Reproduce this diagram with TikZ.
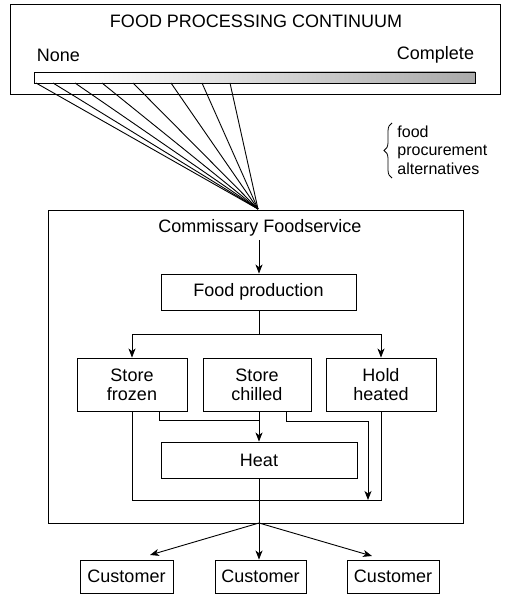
\documentclass[tikz,border=0pt]{standalone}
\usepackage{fontspec}
\setmainfont{Liberation Sans}
\usetikzlibrary{arrows.meta,decorations.pathreplacing,calc}
\pgfdeclarehorizontalshading{barshade}{100bp}{color(0bp)=(white); color(30bp)=(white); color(70bp)=(black!30); color(100bp)=(black!50)}
\begin{document}
\begin{tikzpicture}[x=1pt,y=-1pt,
  line width=0.9pt,
  box/.style={draw,line width=0.9pt,inner sep=0pt,align=center,
    font=\fontsize{18}{19}\selectfont},
  txt/.style={inner sep=0pt,font=\fontsize{18}{19}\selectfont,align=center},
  arr/.style={-{Stealth[length=9pt,width=7pt,inset=2.5pt]}}]
\useasboundingbox (0,0) rectangle (517,604);

% top panel
\node[box,minimum width=490pt,minimum height=90pt] (top) at (255,49) {};
\node[txt] (title) at (256,21) {FOOD PROCESSING CONTINUUM};
\node[txt] (none) at (58.5,55) {None};
\node[txt] (complete) at (435.5,55) {Complete};
\node[draw,line width=0.9pt,shading=barshade,minimum width=441pt,minimum height=11pt,inner sep=0pt] (bar) at (254.5,77.5) {};

% fan
\coordinate (conv) at (258,209);
\foreach \i/\xx in {1/36,2/53,3/75,4/102,5/133,6/171,7/202,8/230}{
  \coordinate (f\i) at (\xx,83);
  \draw (f\i) -- (conv);
}

% brace and label
\coordinate (brT) at (392,123);
\coordinate (brB) at (392,178);
\draw[decorate,decoration={brace,amplitude=8pt,mirror},line width=0.8pt] (brT) -- (brB);
\node[txt,anchor=west,align=left,font=\fontsize{16}{18.5}\selectfont] (proc) at (397,150) {food\\procurement\\alternatives};

% commissary box
\node[box,minimum width=415pt,minimum height=313pt] (comm) at (255.5,366.5) {};
\node[txt] (commt) at (260,228) {Commissary Foodservice};

\node[box,minimum width=195pt,minimum height=36pt] (fp) at (258.5,292) {Food production};
\coordinate (a1) at (259,240);
\draw[arr] (a1) -- (a1 |- fp.north);

\node[box,minimum width=110pt,minimum height=53pt] (frozen) at (132,384.5) {Store\\frozen};
\node[box,minimum width=108pt,minimum height=53pt] (chilled) at (257,384.5) {Store\\chilled};
\node[box,minimum width=110pt,minimum height=53pt] (hold) at (381,384.5) {Hold\\heated};
\node[box,minimum width=196pt,minimum height=36pt] (heat) at (259,460) {Heat};

% split
\coordinate (sp) at (259,334);
\draw (fp.south -| sp) -- (sp);
\draw (sp -| frozen.north) -- (sp -| hold.north);
\draw[arr] (sp -| frozen.north) -- (frozen.north);
\draw[arr] (sp -| hold.north) -- (hold.north);

% lower connections
\coordinate (ax) at (259,411);
\draw[arr] (chilled.south -| ax) -- (heat.north -| ax);
\draw (frozen.south -| 159,0) |- (259,420);
\coordinate (lp) at (368,500);
\draw (chilled.south -| 286,0) |- (368,421);
\draw[arr] (368,421) -- (lp);
\draw (frozen.south) |- (hold.south |- lp) -- (hold.south);

% customers
\node[box,minimum width=93pt,minimum height=33pt] (c1) at (126.5,576.5) {Customer};
\node[box,minimum width=91pt,minimum height=33pt] (c2) at (260.5,576.5) {Customer};
\node[box,minimum width=92pt,minimum height=33pt] (c3) at (393,576.5) {Customer};
\coordinate (out) at (259,523);
\draw (heat.south -| out) -- (out);
\coordinate (t1) at (150,555);
\coordinate (t3) at (372,556);
\draw[arr] (out) -- (t1);
\draw[arr] (out) -- (out |- c2.north);
\draw[arr] (out) -- (t3);
\end{tikzpicture}
\end{document}
